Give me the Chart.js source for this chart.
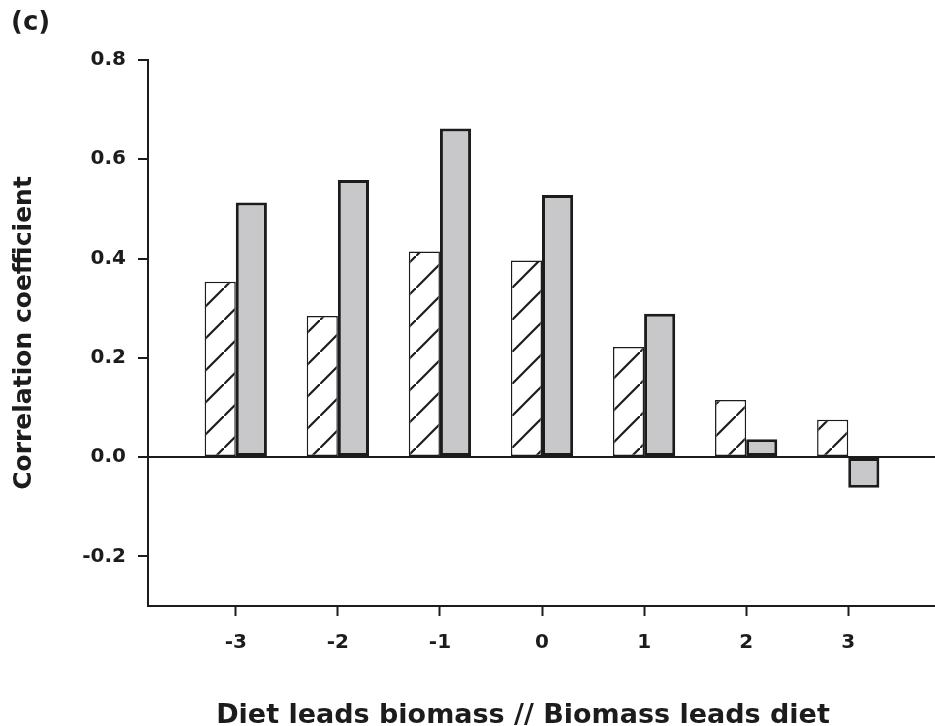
<!DOCTYPE html>
<html>
<head>
<meta charset="utf-8">
<script src="https://cdn.jsdelivr.net/npm/chart.js@4"></script>
<style>
  body { margin: 0; background: #fff; }
</style>
</head>
<body>
<canvas id="chart" width="935" height="726"></canvas>
<script>
// lag values (x axis) and the two correlation series
const lags = [-3, -2, -1, 0, 1, 2, 3];
const hatchedVals = [0.353, 0.284, 0.414, 0.396, 0.222, 0.115, 0.075];
const grayVals = [0.513, 0.558, 0.662, 0.528, 0.289, 0.036, -0.062];
const yTicks = [-0.2, 0.0, 0.2, 0.4, 0.6, 0.8];

const ink = "#1c1c1c";
const font = "'DejaVu Sans', sans-serif";

// diagonal "/" hatch pattern
function hatch() {
  const c = document.createElement("canvas");
  c.width = 32; c.height = 32;
  const g = c.getContext("2d");
  g.fillStyle = "#fff";
  g.fillRect(0, 0, 32, 32);
  g.strokeStyle = ink;
  g.lineWidth = 2.2;
  g.beginPath();
  g.moveTo(-4, 36); g.lineTo(36, -4);
  g.stroke();
  return g.createPattern(c, "repeat");
}

const extraText = {
  id: "extraText",
  afterDraw(chart) {
    const ctx = chart.ctx;
    ctx.save();
    ctx.fillStyle = ink;
    ctx.textBaseline = "alphabetic";
    ctx.font = "bold 26px " + font;
    ctx.textAlign = "left";
    ctx.fillText("(c)", 11, 30);
    ctx.font = "bold 27px " + font;
    ctx.textAlign = "center";
    ctx.fillText("Diet leads biomass // Biomass leads diet", 523, 723);
    ctx.restore();
  }
};

new Chart(document.getElementById("chart").getContext("2d"), {
  type: "bar",
  data: {
    datasets: [{
      label: "hatched",
      data: lags.map((x, i) => ({ x: x, y: hatchedVals[i] })),
      backgroundColor: hatch(),
      borderColor: ink,
      borderWidth: 1.5,
      borderSkipped: false
    }, {
      label: "gray",
      data: lags.map((x, i) => ({ x: x, y: grayVals[i] })),
      backgroundColor: "#c8c8ca",
      borderColor: ink,
      borderWidth: 3,
      borderSkipped: false
    }]
  },
  options: {
    responsive: false,
    animation: false,
    categoryPercentage: 0.61,
    barPercentage: 1,
    layout: { padding: { top: 60, right: 0, bottom: 0, left: 0 } },
    plugins: { legend: { display: false }, tooltip: { enabled: false } },
    scales: {
      x: {
        type: "linear",
        offset: false,
        min: -3.86,
        max: 3.85,
        afterBuildTicks: s => { s.ticks = lags.map(v => ({ value: v })); },
        afterFit: s => { s.height = 120; },
        border: { color: ink, width: 2 },
        grid: {
          offset: false,
          drawOnChartArea: false,
          tickLength: 10,
          tickColor: ink,
          tickWidth: 2
        },
        ticks: {
          color: ink,
          padding: 15,
          font: { family: font, size: 20, weight: "bold" },
          callback: v => String(v)
        }
      },
      y: {
        min: -0.3,
        max: 0.8,
        afterBuildTicks: s => { s.ticks = yTicks.map(v => ({ value: v })); },
        afterFit: s => { s.width = 148; },
        border: { color: ink, width: 2 },
        grid: {
          color: c => (c.tick && c.tick.value === 0 ? ink : "rgba(0,0,0,0)"),
          lineWidth: 2,
          tickLength: 10,
          tickColor: ink,
          tickWidth: 2
        },
        ticks: {
          color: ink,
          padding: 12,
          font: { family: font, size: 20, weight: "bold" },
          callback: v => v.toFixed(1)
        },
        title: {
          display: true,
          text: "Correlation coefficient",
          color: ink,
          padding: { top: 9, bottom: 0 },
          font: { family: font, size: 25, weight: "bold" }
        }
      }
    }
  },
  plugins: [extraText]
});
</script>
</body>
</html>
